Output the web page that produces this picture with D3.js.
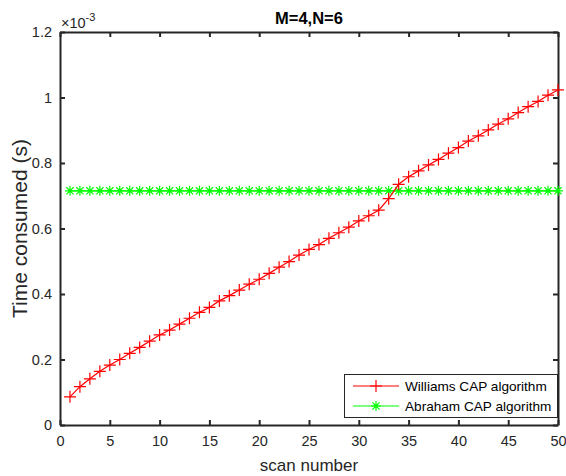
<!DOCTYPE html>
<html>
<head>
<meta charset="utf-8">
<script src="https://cdn.jsdelivr.net/npm/d3@7"></script>
<style>
  body { margin: 0; background: #fff; }
  svg { display: block; font-family: "Liberation Sans", Arial, sans-serif; }
</style>
</head>
<body>
<svg></svg>
<script>
// scan numbers
const scans = [1, 2, 3, 4, 5, 6, 7, 8, 9, 10, 11, 12, 13, 14, 15, 16, 17, 18, 19, 20,
  21, 22, 23, 24, 25, 26, 27, 28, 29, 30, 31, 32, 33, 34, 35, 36, 37, 38, 39, 40,
  41, 42, 43, 44, 45, 46, 47, 48, 49, 50];

// time consumed, in units of 1e-3 s
const williams = [0.086, 0.117, 0.141, 0.164, 0.183, 0.200, 0.219, 0.237, 0.256, 0.275,
  0.290, 0.308, 0.326, 0.344, 0.359, 0.379, 0.395, 0.412, 0.430, 0.445,
  0.463, 0.482, 0.499, 0.519, 0.536, 0.551, 0.570, 0.587, 0.604, 0.623,
  0.639, 0.656, 0.691, 0.735, 0.758, 0.776, 0.794, 0.811, 0.830, 0.847,
  0.867, 0.883, 0.901, 0.919, 0.935, 0.954, 0.972, 0.988, 1.007, 1.023];
const abraham = [0.715, 0.715, 0.715, 0.715, 0.715, 0.715, 0.715, 0.715, 0.715, 0.715,
  0.715, 0.715, 0.715, 0.715, 0.715, 0.715, 0.715, 0.715, 0.715, 0.715,
  0.715, 0.715, 0.715, 0.715, 0.715, 0.715, 0.715, 0.715, 0.715, 0.715,
  0.715, 0.715, 0.715, 0.715, 0.715, 0.715, 0.715, 0.715, 0.715, 0.715,
  0.715, 0.715, 0.715, 0.715, 0.715, 0.715, 0.715, 0.715, 0.715, 0.715];

const xTicks = [0, 5, 10, 15, 20, 25, 30, 35, 40, 45, 50];
const yTicks = [0, 0.2, 0.4, 0.6, 0.8, 1, 1.2];
const seriesNames = ["Williams CAP algorithm", "Abraham CAP algorithm"];

const width = 566, height = 476;
const mLeft = 60, mRight = 558, mTop = 32, mBottom = 425;
const axisColor = "#262626";

const svg = d3.select("svg").attr("width", width).attr("height", height);

const x = d3.scaleLinear().domain([0, 50]).range([mLeft, mRight]);
const y = d3.scaleLinear().domain([0, 1.2]).range([mBottom, mTop]);
const fmt = d3.format("~g");

// axes (ticks inward, box on)
const styleAxis = g => {
  g.attr("font-family", null).attr("font-size", null);
  g.select(".domain").attr("stroke", axisColor).attr("stroke-width", 2);
  g.selectAll(".tick line").attr("stroke", axisColor).attr("stroke-width", 2);
  g.selectAll(".tick text").attr("fill", axisColor).style("font-size", "14.5px");
};

svg.append("g").attr("transform", `translate(0,${mBottom})`)
  .call(d3.axisBottom(x).tickValues(xTicks).tickSizeInner(-5).tickSizeOuter(0).tickPadding(11))
  .call(styleAxis);
svg.append("g").attr("transform", `translate(0,${mTop})`)
  .call(d3.axisTop(x).tickValues(xTicks).tickSizeInner(-5).tickSizeOuter(0).tickFormat(""))
  .call(styleAxis);
svg.append("g").attr("transform", `translate(${mLeft},0)`)
  .call(d3.axisLeft(y).tickValues(yTicks).tickSizeInner(-5).tickSizeOuter(0).tickPadding(8).tickFormat(fmt))
  .call(styleAxis);
svg.append("g").attr("transform", `translate(${mRight},0)`)
  .call(d3.axisRight(y).tickValues(yTicks).tickSizeInner(-5).tickSizeOuter(0).tickFormat(""))
  .call(styleAxis);

// exponent label
const expo = svg.append("text").attr("x", mLeft + 1).attr("y", 28)
  .attr("fill", axisColor).style("font-size", "14.5px");
expo.append("tspan").text("\u00d710");
expo.append("tspan").attr("dy", -7).style("font-size", "11px").text("-3");

// title and labels
svg.append("text").attr("x", (mLeft + mRight) / 2).attr("y", 24)
  .attr("text-anchor", "middle").attr("font-weight", "bold")
  .style("font-size", "16.5px").attr("fill", "#000").text("M=4,N=6");
svg.append("text").attr("x", (mLeft + mRight) / 2).attr("y", 471)
  .attr("text-anchor", "middle").style("font-size", "17px").attr("fill", axisColor)
  .text("scan number");
svg.append("text").attr("transform", `translate(27,${(mTop + mBottom) / 2}) rotate(-90)`)
  .attr("text-anchor", "middle").style("font-size", "21px").attr("fill", axisColor)
  .text("Time consumed (s)");

// markers
const plus = (g, cx, cy, s, color) => {
  g.append("path").attr("d", `M${cx - s},${cy}H${cx + s}M${cx},${cy - s}V${cy + s}`)
    .attr("stroke", color).attr("stroke-width", 1.2).attr("fill", "none");
};
const star = (g, cx, cy, s, color) => {
  const d = s * 0.72;
  g.append("path")
    .attr("d", `M${cx - s},${cy}H${cx + s}M${cx},${cy - s}V${cy + s}M${cx - d},${cy - d}L${cx + d},${cy + d}M${cx - d},${cy + d}L${cx + d},${cy - d}`)
    .attr("stroke", color).attr("stroke-width", 1.2).attr("fill", "none");
};

const line = d3.line().x((d, i) => x(scans[i])).y(d => y(d));

const plot = svg.append("g");
plot.append("path").datum(abraham).attr("d", line)
  .attr("fill", "none").attr("stroke", "#00ff00").attr("stroke-width", 1.2);
abraham.forEach((v, i) => star(plot, x(scans[i]), y(v), 5, "#00ff00"));

plot.append("path").datum(williams).attr("d", line)
  .attr("fill", "none").attr("stroke", "#ff0000").attr("stroke-width", 1.2);
williams.forEach((v, i) => plus(plot, x(scans[i]), y(v), 6, "#ff0000"));

// legend
const lg = svg.append("g");
lg.append("rect").attr("x", 344.5).attr("y", 374.5).attr("width", 213).attr("height", 43)
  .attr("fill", "#fff").attr("stroke", axisColor).attr("stroke-width", 1);
const legendColors = ["#ff0000", "#00ff00"];
seriesNames.forEach((name, i) => {
  const ly = 386 + i * 20;
  lg.append("line").attr("x1", 353).attr("x2", 399).attr("y1", ly).attr("y2", ly)
    .attr("stroke", legendColors[i]).attr("stroke-width", 1.2);
  if (i === 0) plus(lg, 376, ly, 6, legendColors[i]);
  else star(lg, 376, ly, 5, legendColors[i]);
  lg.append("text").attr("x", 405).attr("y", ly + 5).style("font-size", "13.6px")
    .attr("fill", "#000").text(name);
});
</script>
</body>
</html>
